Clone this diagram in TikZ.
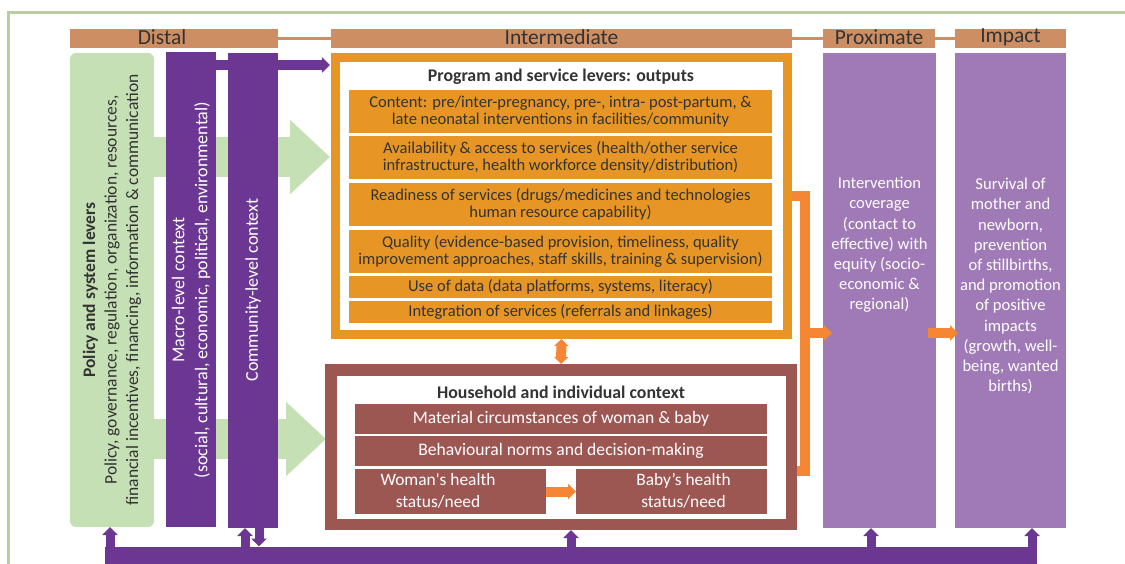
\documentclass[tikz,border=0pt]{standalone}
\usepackage{fontspec}
\setmainfont{Carlito}
\usetikzlibrary{arrows.meta,calc}
\definecolor{frameg}{HTML}{B9CDA0}
\definecolor{tanc}{HTML}{CD8E63}
\definecolor{lgreen}{HTML}{C5E0B4}
\definecolor{dpurple}{HTML}{6B3793}
\definecolor{lpurple}{HTML}{A07AB6}
\definecolor{obox}{HTML}{E79626}
\definecolor{oarrow}{HTML}{F58634}
\definecolor{brownc}{HTML}{9C5753}
\definecolor{dtext}{HTML}{333333}
\begin{document}
\begin{tikzpicture}[x=1pt,y=-1pt,
  hdr/.style={fill=tanc, inner sep=0, outer sep=0, minimum height=19pt, text=dtext, text height=16pt, text depth=3pt, font=\fontsize{21.5}{21.5}\selectfont},
  col/.style={inner sep=0, outer sep=0, minimum height=475pt},
  orow/.style={fill=obox, inner sep=0, outer sep=0, minimum width=423pt, text=dtext, align=center, font=\fontsize{16.5}{16.7}\selectfont},
  brow/.style={fill=brownc, inner sep=0, outer sep=0, text=white, align=center, font=\fontsize{17.6}{22}\selectfont},
  browtext/.style={inner sep=0, outer sep=0, text=white, align=center, font=\fontsize{17.4}{22}\selectfont},
  titletext/.style={text=dtext, inner sep=0, font=\fontsize{17.8}{18}\selectfont\bfseries},
  rottext/.style={rotate=90, align=center, inner sep=0},
  pa/.style={draw=dpurple, line width=9pt, -{Triangle[length=8pt,width=15pt]}},
  oarr/.style={draw=oarrow, line width=10pt, -{Triangle[length=8pt,width=15pt]}},
  greenarr/.style={draw=lgreen, line width=40pt, -{Triangle[length=40pt,width=72pt]}},
  ptext/.style={text=white, align=center, inner sep=0, font=\fontsize{16.6}{20.2}\selectfont}
]
\useasboundingbox (0,0) rectangle (1125,564);
% outer frame
\coordinate (f1) at (8,564);
\coordinate (f2) at (8,13);
\coordinate (f3) at (1125,13);
\draw[frameg, line width=3pt] (f1) -- (f2) -- (f3);

% headers
\node[hdr, minimum width=208pt] (hdist) at (174,38.5) {};
\node[hdr, fill=none] (hdistt) at (162,38.5) {Distal};
\node[hdr, minimum width=461pt] (hint) at (561.5,38.5) {Intermediate};
\node[hdr, minimum width=112pt] (hprox) at (879,38.5) {Proximate};
\node[hdr, minimum width=111pt, text height=14pt, text depth=5pt] (himp) at (1010.5,38.5) {Impact};
\draw[tanc, line width=3pt] (hdist.east) -- (hint.west);
\draw[tanc, line width=3pt] (hint.east) -- (hprox.west);
\draw[tanc, line width=3pt] (hprox.east) -- (himp.west);

% policy box
\node[col, fill=lgreen, rounded corners=6pt, minimum width=84pt, minimum height=474pt] (policy) at (112,290) {};
\node[rottext, text=dtext, font=\fontsize{17.5}{21.5}\selectfont] (policyt) at (112,290) {{\bfseries Policy and system levers}\\Policy, governance, regulation, organization, resources,\\financial incentives, financing, information \& communication};

% green block arrows
\coordinate (g1s) at (154,157);
\coordinate (g1e) at (330,157);
\coordinate (g2s) at (154,439);
\coordinate (g2e) at (326,439);
\draw[greenarr] (g1s) -- (g1e);
\draw[greenarr] (g2s) -- (g2e);

% purple context bars
\node[col, fill=dpurple, minimum width=50pt] (macro) at (191,289.5) {};
\node[rottext, text=white, font=\fontsize{18}{23}\selectfont] (macrot) at (191,290) {Macro-level context\\(social, cultural, economic, political, environmental)};
\node[col, fill=dpurple, minimum width=50pt] (comm) at (253,290.5) {};
\node[rottext, text=white, font=\fontsize{18}{23}\selectfont] (commt) at (253,290) {Community-level context};

% program box
\node[draw=obox, line width=9pt, fill=white, minimum width=452pt, minimum height=277pt, inner sep=0] (prog) at (561.5,196) {};
\node[titletext] (progt) at (561,77) {Program and service levers: outputs};
\node[orow, minimum height=43pt] (r1) at (560.5,111.5) {Content: pre/inter-pregnancy, pre-, intra- post-partum, \&\\late neonatal interventions in facilities/community};
\node[orow, minimum height=43pt] (r2) at (560.5,157.5) {Availability \& access to services (health/other service\\infrastructure, health workforce density/distribution)};
\node[orow, minimum height=43pt] (r3) at (560.5,204.5) {Readiness of services (drugs/medicines and technologies\\human resource capability)};
\node[orow, minimum height=43pt] (r4) at (560.5,251.5) {Quality (evidence-based provision, timeliness, quality\\improvement approaches, staff skills, training \& supervision)};
\node[orow, minimum height=22pt] (r5) at (560.5,287) {Use of data (data platforms, systems, literacy)};
\node[orow, minimum height=22pt] (r6) at (560.5,312) {Integration of services (referrals and linkages)};

% purple top arrow
\coordinate (pa1s) at (216,65);
\coordinate (pa1e) at (330,65);
\draw[pa, line width=10pt] (pa1s) -- (pa1e);

% household box
\node[draw=brownc, line width=11.5pt, fill=white, minimum width=460.5pt, minimum height=154.5pt, inner sep=0] (hh) at (561,447) {};
\node[titletext] (hht) at (561,392) {Household and individual context};
\node[brow, minimum width=412pt, minimum height=30pt] (h1) at (561,419) {Material circumstances of woman \& baby};
\node[brow, minimum width=412pt, minimum height=30pt] (h2) at (561,451) {Behavioural norms and decision-making};
\node[brow, minimum width=191pt, minimum height=45pt] (woman) at (450.5,491.5) {};
\node[browtext] (womant) at (438,491) {Woman\textquotesingle s health\\status/need};
\node[brow, minimum width=191pt, minimum height=45pt] (baby) at (671.5,491.5) {};
\node[browtext] (babyt) at (683.5,491) {Baby’s health\\status/need};
\draw[oarr] (woman.east) -- (baby.west);

% vertical double arrow
\draw[draw=oarrow, line width=10pt, {Triangle[length=7pt,width=14pt]}-{Triangle[length=7pt,width=14pt]}] (prog.south) -- (hh.north);

% proximate & impact
\node[col, fill=lpurple, minimum width=113pt] (prox) at (879.5,290.5) {};
\node[ptext] (proxt) at (879.5,245) {Intervention\\coverage\\(contact to\\effective) with\\equity (socio-\\economic \&\\regional)};
\node[col, fill=lpurple, minimum width=111pt] (imp) at (1010.5,290.5) {};
\node[ptext] (impt) at (1010.5,286) {Survival of\\mother and\\newborn,\\prevention\\of stillbirths,\\and promotion\\of positive\\impacts\\(growth, well-\\being, wanted\\births)};

% right orange connector
\coordinate (rj1) at (805,196);
\coordinate (rj2) at (805,471);
\coordinate (rj3) at (800,333);
\coordinate (rj4) at (832,333);
\draw[oarrow, line width=10pt, line join=miter] (prog.east) -- (rj1) -- (rj2) -- (hh.east |- rj2);
\draw[oarr] (rj3) -- (rj4);
\coordinate (pi1) at (928,333);
\coordinate (pi2) at (958,333);
\draw[oarr] (pi1) -- (pi2);

% bottom bar
\node[fill=dpurple, minimum width=932pt, minimum height=19pt, inner sep=0, outer sep=0] (bar) at (571,556) {};
\coordinate (x1) at (110,0);
\coordinate (x2) at (245,0);
\coordinate (x3) at (259,0);
\coordinate (x4) at (571,0);
\coordinate (x5) at (871,0);
\coordinate (x6) at (1032,0);
\draw[pa] (bar.north -| x1) -- (policy.south -| x1);
\draw[pa] (bar.north -| x2) -- (comm.south -| x2);
\draw[pa] (comm.south -| x3) -- (bar.north -| x3);
\draw[pa] (bar.north -| x4) -- (hh.south -| x4);
\draw[pa] (bar.north -| x5) -- (prox.south -| x5);
\draw[pa] (bar.north -| x6) -- (imp.south -| x6);
\end{tikzpicture}
\end{document}
